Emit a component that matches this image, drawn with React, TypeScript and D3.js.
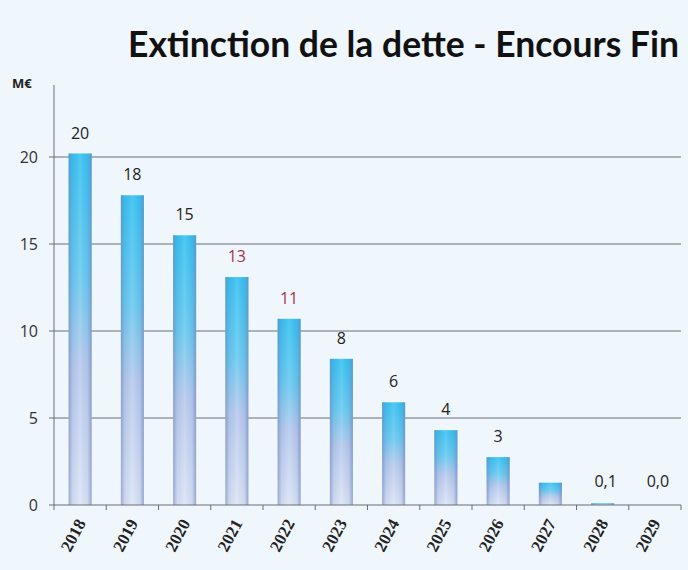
import React from "react";
import * as d3 from "d3";

const years = ["2018","2019","2020","2021","2022","2023","2024","2025","2026","2027","2028","2029"];
const values = [20.2, 17.8, 15.5, 13.1, 10.7, 8.4, 5.9, 4.3, 2.75, 1.28, 0.1, 0.0];
const labels = ["20","18","15","13","11","8","6","4","3","","0,1","0,0"];
const labelColors = ["#222","#222","#222","#a8344a","#a8344a","#222","#222","#222","#222","#222","#222","#222"];
const yTicks = [0, 5, 10, 15, 20];

const W = 688, H = 570;
const left = 54, right = 681, top = 85, bottom = 505;

export default function App() {
  const x = d3.scaleBand<string>().domain(years).range([left, right]).paddingInner(0).paddingOuter(0);
  const y = d3.scaleLinear().domain([0, 20]).range([bottom, 157]);
  const bw = 23;
  return (
    <svg width={W} height={H} style={{ position: "absolute", left: 0, top: 0, background: "#eff6fc" }}>
      <defs>
        <linearGradient id="gv" x1="0" y1="0" x2="0" y2="1">
          <stop offset="0" stopColor="#2dbff0" />
          <stop offset="0.35" stopColor="#62c8ef" />
          <stop offset="0.6" stopColor="#b4c8ec" />
          <stop offset="1" stopColor="#dbe3f5" />
        </linearGradient>
        <linearGradient id="gh" x1="0" y1="0" x2="1" y2="0">
          <stop offset="0" stopColor="#6f82b8" stopOpacity="0.6" />
          <stop offset="0.18" stopColor="#7a8cc0" stopOpacity="0.12" />
          <stop offset="0.5" stopColor="#ffffff" stopOpacity="0.15" />
          <stop offset="0.82" stopColor="#7a8cc0" stopOpacity="0.12" />
          <stop offset="1" stopColor="#6f82b8" stopOpacity="0.65" />
        </linearGradient>
      </defs>
      <rect x={0} y={0} width={W} height={H} fill="#eff6fc" />
      <text x={128} y={57} fontFamily="Lato, sans-serif" fontWeight="bold" fontSize={35.5} fill="#111">Extinction de la dette - Encours Fin</text>
      <text x={12} y={88} fontFamily="'Open Sans', sans-serif" fontWeight="bold" fontSize={13} fill="#222">M€</text>
      {yTicks.filter(t => t > 0).map(t => (
        <line key={"g" + t} x1={left - 5} x2={right} y1={y(t)} y2={y(t)} stroke="#6a6f78" strokeWidth={1} />
      ))}
      {yTicks.map(t => (
        <text key={"yt" + t} x={38} y={y(t) + 6} textAnchor="end" fontFamily="'Open Sans', sans-serif" fontSize={16} fill="#333">{t}</text>
      ))}
      {years.map((yr, i) => {
        const cx = (x(yr) as number) + x.bandwidth() / 2;
        const v = values[i];
        const h = bottom - y(v);
        return (
          <g key={yr}>
            {h > 0.5 && (
              <g>
                <rect x={cx - bw / 2} y={y(v)} width={bw} height={h} fill="url(#gv)" />
                <rect x={cx - bw / 2} y={y(v)} width={bw} height={h} fill="url(#gh)" />
              </g>
            )}
            {labels[i] && (
              <text x={cx + (i >= 10 ? 3 : 0)} y={(i >= 10 ? 487 : y(v) - 15)} textAnchor="middle"
                fontFamily="'Open Sans', sans-serif" fontSize={16} fill={labelColors[i]}>{labels[i]}</text>
            )}
            <text transform={`translate(${cx + 6},${523}) rotate(-62)`} textAnchor="end"
              fontFamily="'Liberation Serif', 'Times New Roman', serif" fontWeight="bold" fontSize={17} fill="#222">{yr}</text>
          </g>
        );
      })}
      <line x1={left} x2={left} y1={top} y2={bottom} stroke="#6a6f78" strokeWidth={1} />
      <line x1={left - 5} x2={right} y1={bottom} y2={bottom} stroke="#6a6f78" strokeWidth={1} />
      {d3.range(years.length + 1).map(i => {
        const xx = left + i * x.bandwidth();
        return <line key={"t" + i} x1={xx} x2={xx} y1={bottom} y2={bottom + 5} stroke="#6a6f78" strokeWidth={1} />;
      })}
    </svg>
  );
}
